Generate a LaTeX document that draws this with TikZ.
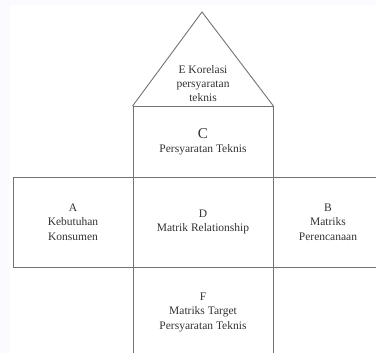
\documentclass[tikz,border=0pt]{standalone}
\usepackage{fontspec}
\setmainfont{Liberation Serif}

\begin{document}
\begin{tikzpicture}[x=1pt, y=-1pt]
        \clip (0,0) rectangle (376,353);
        \fill[black!6!blue!2!white] (0,0) rectangle (376,353);
        \fill[white] (10,5) rectangle (376,353);
        \begin{scope}[every node/.style={draw=black!55, line width=0.9pt, rectangle, minimum width=140pt, minimum height=90pt, inner sep=0, align=center, text=black!80, font=\fontsize{11.5}{14.5}\selectfont}]
            \node (C) at (203,142) [minimum height=71pt] {{\fontsize{15}{17}\selectfont C}\\[-1pt] Persyaratan Teknis};
            \node (A) at (73,222) [minimum width=120pt] {A\\ Kebutuhan\\ Konsumen};
            \node (D) at (203,222) {D\\ Matrik Relationship};
            \node (B) at (328,222) [minimum width=110pt] {B\\ Matriks\\ Perencanaan};
            \node (F) at (203,312) {F\\ Matriks Target\\ Persyaratan Teknis};
        \end{scope}
        % atap korelasi
        \coordinate (top) at (202,12);
        \draw[black!55, line width=0.9pt] (C.north west) -- (top) -- (C.north east);
        \node[align=center, text=black!80, font=\fontsize{11.5}{14}\selectfont] (E) at (203,84) {E Korelasi\\ persyaratan\\ teknis};
    \end{tikzpicture}
\end{document}
